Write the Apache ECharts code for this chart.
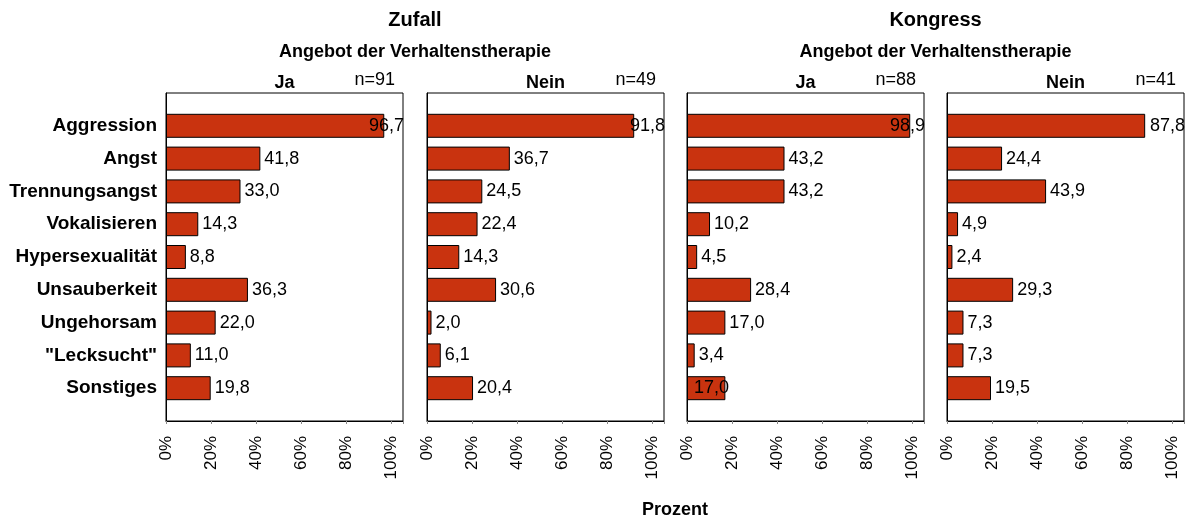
<!DOCTYPE html>
<html>
<head>
<meta charset="utf-8">
<script src="https://cdn.jsdelivr.net/npm/echarts@6/dist/echarts.min.js"></script>
<style>
  html, body { margin: 0; padding: 0; background: #fff; }
  #chart { width: 1192px; height: 519px; }
</style>
</head>
<body>
<div id="chart"></div>
<script>
// Kategorien (von oben nach unten)
var categories = ['Aggression', 'Angst', 'Trennungsangst', 'Vokalisieren', 'Hypersexualität',
    'Unsauberkeit', 'Ungehorsam', '"Lecksucht"', 'Sonstiges'];

// Prozentwerte je Panel
var zufallJa = [96.7, 41.8, 33.0, 14.3, 8.8, 36.3, 22.0, 11.0, 19.8];
var zufallNein = [91.8, 36.7, 24.5, 22.4, 14.3, 30.6, 2.0, 6.1, 20.4];
var kongressJa = [98.9, 43.2, 43.2, 10.2, 4.5, 28.4, 17.0, 3.4, 17.0];
var kongressNein = [87.8, 24.4, 43.9, 4.9, 2.4, 29.3, 7.3, 7.3, 19.5];

var panelHeads = ['Ja', 'Nein', 'Ja', 'Nein'];
var panelN = ['n=91', 'n=49', 'n=88', 'n=41'];
var groupTitles = ['Zufall', 'Kongress'];
var xTicks = [0, 20, 40, 60, 80, 100];

var panels = [zufallJa, zufallNein, kongressJa, kongressNein];
var lefts = [166, 427, 687, 947];
var gridW = 237, gridTop = 93, gridH = 328;
var xMax = 105;
var barColor = '#c9330f';
var font = 'Liberation Sans, Arial, sans-serif';

function fmt(v) {
    return v.toFixed(1).replace('.', ',');
}

var grids = [], xAxes = [], yAxes = [], series = [];
panels.forEach(function (vals, i) {
    grids.push({
        left: lefts[i], top: gridTop, width: gridW, height: gridH,
        show: true, borderColor: '#000', borderWidth: 1, backgroundColor: '#fff'
    });
    xAxes.push({
        type: 'value', gridIndex: i, min: 0, max: xMax, interval: 20,
        axisLine: { show: true, lineStyle: { color: '#000', width: 1 } },
        axisTick: { show: true, length: 3, lineStyle: { color: '#888' } },
        splitLine: { show: false },
        axisLabel: {
            rotate: 90, margin: 15, fontSize: 17, color: '#000', fontFamily: font,
            formatter: function (v) { return xTicks.indexOf(v) >= 0 ? v + '%' : ''; }
        }
    });
    yAxes.push({
        type: 'category', gridIndex: i, inverse: true, boundaryGap: false,
        data: [''].concat(categories, ['']),
        axisLine: { show: true, lineStyle: { color: '#000' } },
        axisTick: { show: false },
        axisLabel: {
            show: i === 0, margin: 9, fontSize: 19, fontWeight: 'bold',
            color: '#000', fontFamily: font
        }
    });
    var data = [null];
    vals.forEach(function (v, k) {
        var item = { value: v };
        var endPx = v / xMax * gridW;
        if (endPx + 40 > gridW) {
            // Beschriftung am rechten Rand festhalten
            item.label = { position: 'insideRight', distance: 0, offset: [gridW - endPx + 1, 0] };
        }
        if (i === 2 && k === vals.length - 1) {
            item.label = { position: 'insideLeft', distance: 7 };
        }
        data.push(item);
    });
    data.push(null);
    series.push({
        type: 'bar', xAxisIndex: i, yAxisIndex: i, barWidth: 24,
        itemStyle: { color: barColor, borderColor: '#000', borderWidth: 1 },
        label: {
            show: true, position: 'right', distance: 4, fontSize: 18,
            color: '#000', fontFamily: font,
            formatter: function (p) { return fmt(p.value); }
        },
        data: data
    });
});

var graphics = [];
function txt(s, x, y, size, bold, align) {
    graphics.push({
        type: 'text', x: x, y: y,
        style: {
            text: s, fill: '#000', align: align || 'center', verticalAlign: 'middle',
            font: (bold ? 'bold ' : '') + size + 'px ' + font
        }
    });
}
groupTitles.forEach(function (t, g) {
    var cx = (lefts[g * 2] + lefts[g * 2 + 1] + gridW) / 2;
    txt(t, cx, 20, 20, true);
    txt('Angebot der Verhaltenstherapie', cx, 52, 18, true);
});
panelHeads.forEach(function (h, i) {
    txt(h, lefts[i] + gridW / 2, 83, 18, true);
    txt(panelN[i], lefts[i] + gridW - 8, 80, 18, false, 'right');
});
txt('Prozent', (lefts[0] + lefts[3] + gridW) / 2, 510, 18, true);

var chart = echarts.init(document.getElementById('chart'));
chart.setOption({
    animation: false,
    backgroundColor: '#fff',
    grid: grids,
    xAxis: xAxes,
    yAxis: yAxes,
    series: series,
    graphic: graphics
});
</script>
</body>
</html>
